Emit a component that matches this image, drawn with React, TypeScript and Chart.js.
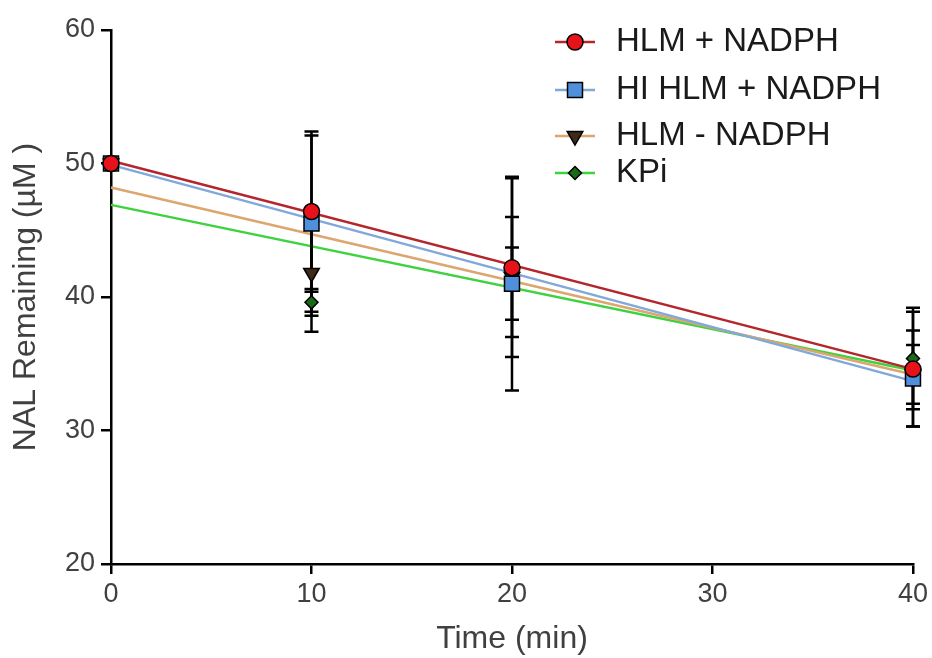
import React, { useEffect, useRef } from "react";
import { Chart, registerables } from "chart.js";

Chart.register(...registerables);

// ---- data ----
const times = [0, 10, 20, 40];
const seriesNames = ["HLM + NADPH", "HI HLM + NADPH", "HLM - NADPH", "KPi"];

const hlmNadph = [50, 46.4, 42.2, 34.6];
const hlmNadphSd = [0, 6.0, 6.7, 4.3];
const hiHlmNadph = [50, 45.5, 41.0, 33.9];
const hiHlmNadphSd = [0, 6.6, 8.0, 3.6];
const hlmMinusNadph = [50, 41.8, 41.5, 34.2];
const hlmMinusNadphSd = [0, 4.4, 4.5, 2.2];
const kpi = [50, 39.6, 41.0, 35.4];
const kpiSd = [0, 1.0, 2.7, 3.8];

const fitX = [0, 40];
const hlmNadphFit = [50.2, 34.6];
const hiHlmNadphFit = [49.9, 33.7];
const hlmMinusNadphFit = [48.2, 34.2];
const kpiFit = [46.9, 34.5];

const xTicks = [0, 10, 20, 30, 40];
const yTicks = [20, 30, 40, 50, 60];

// ---- styles ----
const FONT = "'Liberation Sans', Arial, Helvetica, sans-serif";
const styles = [
  { line: "#b3262c", fill: "#e8121b", shape: "circle", r: 8 },
  { line: "#80a8da", fill: "#4f8fdc", shape: "rect", r: 10.6 },
  { line: "#dca66f", fill: "#3e2a16", shape: "triangle", r: 9 },
  { line: "#3fd23f", fill: "#1a6a1a", shape: "rectRot", r: 6.5 },
];
const means = [hlmNadph, hiHlmNadph, hlmMinusNadph, kpi];
const sds = [hlmNadphSd, hiHlmNadphSd, hlmMinusNadphSd, kpiSd];
const fits = [hlmNadphFit, hiHlmNadphFit, hlmMinusNadphFit, kpiFit];

function drawMarker(ctx: CanvasRenderingContext2D, shape: string, x: number, y: number, r: number, fill: string) {
  ctx.save();
  ctx.beginPath();
  if (shape === "circle") {
    ctx.arc(x, y, r, 0, Math.PI * 2);
  } else if (shape === "rect") {
    const s = r * Math.SQRT1_2;
    ctx.rect(x - s, y - s, 2 * s, 2 * s);
  } else if (shape === "triangle") {
    for (let k = 0; k < 3; k++) {
      const a = Math.PI / 2 + (k * 2 * Math.PI) / 3;
      const px = x + Math.cos(a) * r;
      const py = y + Math.sin(a) * r;
      if (k === 0) ctx.moveTo(px, py);
      else ctx.lineTo(px, py);
    }
    ctx.closePath();
  } else {
    ctx.moveTo(x, y - r);
    ctx.lineTo(x + r, y);
    ctx.lineTo(x, y + r);
    ctx.lineTo(x - r, y);
    ctx.closePath();
  }
  ctx.fillStyle = fill;
  ctx.fill();
  ctx.lineWidth = 1.5;
  ctx.strokeStyle = "#000";
  ctx.stroke();
  ctx.restore();
}

const errorBarPlugin = {
  id: "errorBars",
  beforeDatasetsDraw(chart: any) {
    chart.$ebDone = false;
  },
  beforeDatasetDraw(chart: any, args: any) {
    const ds = chart.data.datasets[args.index];
    if (!ds.sdValues || chart.$ebDone) return;
    chart.$ebDone = true;
    const ctx = chart.ctx as CanvasRenderingContext2D;
    const xs = chart.scales.x;
    const ys = chart.scales.y;
    ctx.save();
    ctx.strokeStyle = "#000";
    ctx.lineWidth = 2.5;
    chart.data.datasets.forEach((d: any) => {
      if (!d.sdValues) return;
      d.data.forEach((p: any, i: number) => {
        const sd = d.sdValues[i];
        if (!sd) return;
        const px = xs.getPixelForValue(p.x);
        const yt = ys.getPixelForValue(p.y + sd);
        const yb = ys.getPixelForValue(p.y - sd);
        ctx.beginPath();
        ctx.moveTo(px, yt);
        ctx.lineTo(px, yb);
        ctx.moveTo(px - 7, yt);
        ctx.lineTo(px + 7, yt);
        ctx.moveTo(px - 7, yb);
        ctx.lineTo(px + 7, yb);
        ctx.stroke();
      });
    });
    ctx.restore();
  },
};

const legendPlugin = {
  id: "customLegend",
  afterDraw(chart: any) {
    const ctx = chart.ctx as CanvasRenderingContext2D;
    const rows = [42, 90, 136, 173];
    ctx.save();
    seriesNames.forEach((name, i) => {
      const y = rows[i];
      const st = styles[i];
      ctx.beginPath();
      ctx.strokeStyle = st.line;
      ctx.lineWidth = 2.5;
      ctx.moveTo(555, y);
      ctx.lineTo(595, y);
      ctx.stroke();
      drawMarker(ctx, st.shape, 575, y, st.r, st.fill);
      ctx.fillStyle = "#1a1a1a";
      ctx.font = `33px ${FONT}`;
      ctx.textBaseline = "middle";
      ctx.textAlign = "left";
      ctx.fillText(name, 616, y);
    });
    ctx.restore();
  },
};

export default function App() {
  const ref = useRef<HTMLCanvasElement | null>(null);

  useEffect(() => {
    document.body.style.margin = "0";
    const canvas = ref.current;
    if (!canvas) return;

    const lineSets = fits.map((f, i) => ({
      label: seriesNames[i] + " fit",
      data: fitX.map((x, j) => ({ x, y: f[j] })),
      showLine: true,
      borderColor: styles[i].line,
      borderWidth: 2.5,
      pointRadius: 0,
      pointHoverRadius: 0,
      fill: false,
      order: 10 + i,
      clip: false,
    }));

    const pointSets = means.map((m, i) => ({
      label: seriesNames[i],
      data: times.map((t, j) => ({ x: t, y: m[j] })),
      sdValues: sds[i],
      showLine: false,
      pointStyle: styles[i].shape,
      pointRotation: styles[i].shape === "triangle" ? 180 : 0,
      pointRadius: styles[i].r,
      pointBackgroundColor: styles[i].fill,
      pointBorderColor: "#000",
      pointBorderWidth: 1.5,
      order: i,
      clip: false,
    }));

    const chart = new Chart(canvas, {
      type: "scatter",
      data: { datasets: [...pointSets, ...lineSets] as any },
      options: {
        animation: false,
        responsive: false,
        events: [],
        layout: { padding: { top: 30, right: 19, left: 0, bottom: 0 } },
        plugins: { legend: { display: false }, tooltip: { enabled: false } },
        scales: {
          x: {
            type: "linear",
            min: 0,
            max: 40,
            afterFit: (s: any) => {
              s.height = 94;
            },
            afterBuildTicks: (s: any) => {
              s.ticks = xTicks.map((v) => ({ value: v }));
            },
            border: { color: "#000", width: 2.5 },
            grid: { display: true, drawOnChartArea: false, drawTicks: true, tickLength: 10, color: "#000", lineWidth: 2.5 },
            ticks: { color: "#404040", font: { family: FONT, size: 27 }, padding: 4 },
            title: { display: true, text: "Time (min)", color: "#404040", font: { family: FONT, size: 32 }, padding: { top: 0, bottom: 0 } },
          },
          y: {
            type: "linear",
            min: 20,
            max: 60,
            afterFit: (s: any) => {
              s.width = 111;
            },
            afterBuildTicks: (s: any) => {
              s.ticks = yTicks.map((v) => ({ value: v }));
            },
            border: { color: "#000", width: 2.5 },
            grid: { display: true, drawOnChartArea: false, drawTicks: true, tickLength: 10, color: "#000", lineWidth: 2.5 },
            ticks: { color: "#404040", font: { family: FONT, size: 27 }, padding: 6 },
            title: { display: true, text: "NAL Remaining (µM )", color: "#404040", font: { family: FONT, size: 32 }, padding: { top: 7, bottom: 0 } },
          },
        },
      },
      plugins: [errorBarPlugin, legendPlugin],
    } as any);

    return () => chart.destroy();
  }, []);

  return (
    <div style={{ width: 932, height: 658 }}>
      <canvas ref={ref} width={932} height={658} style={{ display: "block" }} />
    </div>
  );
}
